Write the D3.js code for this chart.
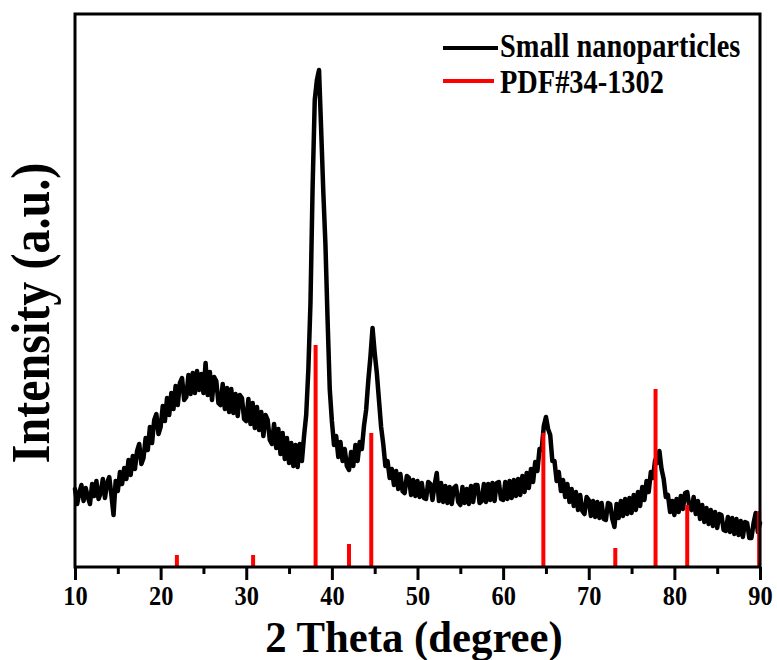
<!DOCTYPE html>
<html><head><meta charset="utf-8">
<script src="https://cdn.jsdelivr.net/npm/d3@7"></script>
<style>body{margin:0;background:#fff} svg{display:block}</style>
</head><body>
<svg id="c" width="777" height="660"></svg>
<script>
// XRD pattern sampled every 0.25 degree from 10 to 90 (arbitrary units)
const thetaStart = 10, thetaStep = 0.25;
const intensity = [
 78, 63, 74, 82,   66, 79, 70, 63,   83, 71, 86, 68,   74, 88, 69, 84,   // 10-13
 90, 72, 52, 86,   76, 95, 83, 99,   88,107, 92,111,   98,116,123,103,   // 14-17
109,129,117,140,  124,147,153,133,  140,161,146,169,  152,174,158,181,   // 18-21
162,184,189,167,  170,192,173,194,  174,196,177,193,  174,204,172,195,   // 22-25
167,190,186,164,  162,183,158,179,  155,178,154,173,  151,172,169,148,   // 26-29
146,168,143,164,  139,160,137,155,  131,152,147,127,  123,143,119,138,   // 30-33
113,134,108,129,  104,124,101,122,  100,123,106,131,  152,197,264,380,   // 34-37
467,487,497,437,  375,322,247,178,  146,122,131,110,  125,106,118,101,   // 38-41
 97,115,101,122,  106,125,118,141,  157,186,210,239,  214,194,167,140,   // 42-45
123,101,106, 89,   98, 82, 96, 78,   93, 76, 74, 91,   89, 72, 87, 71,   // 46-49
 86, 70, 84, 69,   68, 85, 83, 67,   82, 94, 66, 84,   65, 81, 64, 80,   // 50-53
 63, 79, 81, 65,   62, 80, 64, 78,   63, 81, 65, 82,   82, 64, 66, 83,   // 54-57
 65, 83, 67, 84,   66, 84, 85, 68,   67, 85, 68, 86,   69, 87, 71, 88,   // 58-61
 72, 91, 75, 94,   79, 98, 85,105,   96,118,117,141,  150,138,132,106,   // 62-65
106, 86, 95, 76,   87, 70, 83, 65,   78, 61, 75, 57,   72, 56, 53, 70,   // 66-69
 67, 51, 66, 50,   65, 49, 64, 48,   47, 64, 63, 48,   40, 63, 49, 66,   // 70-73
 51, 68, 53, 69,   54, 72, 57, 75,   61, 80, 67, 86,   75, 95, 89,107,   // 74-77
104,116, 98, 88,   70, 72, 55, 66,   52, 68, 55, 71,   58, 74, 75, 60,   // 78-81
 57, 70, 53, 66,   48, 62, 45, 59,   43, 57, 41, 55,   39, 53, 52, 37,   // 82-85
 36, 50, 35, 49,   33, 48, 32, 46,   30, 45, 44, 29,   29, 44, 54, 35,   // 86-89
 44                                                                      // 90
];
// Reference pattern PDF#34-1302
const pdfPositions   = [21.9, 30.8, 38.1, 42.0, 44.6, 64.7, 73.1, 77.8, 81.5, 89.9];
const pdfIntensities = [12,   12,   222,  23,   134,  134,  19,   178,  62,   56];
const xTicks = [10, 20, 30, 40, 50, 60, 70, 80, 90];
const xMinorTicks = [15, 25, 35, 45, 55, 65, 75, 85];
const legendLabels = ["Small nanoparticles", "PDF#34-1302"];
const seriesColors = ["#000000", "#ff0000"];
const xLabel = "2 Theta (degree)";
const yLabel = "Intensity (a.u.)";

const L = 75, R = 760, T = 14, B = 567;
const font = "'Liberation Serif','Times New Roman',serif";
const svg = d3.select("#c");
const x = d3.scaleLinear().domain([10, 90]).range([L, R]);
const y = d3.scaleLinear().domain([0, 553]).range([B, T]);

// measured curve
const line = d3.line()
  .x((d, i) => x(thetaStart + i * thetaStep))
  .y(d => y(d));
svg.append("path").datum(intensity)
  .attr("d", line).attr("fill", "none")
  .attr("stroke", seriesColors[0]).attr("stroke-width", 4.5)
  .attr("stroke-linejoin", "round").attr("stroke-linecap", "round");

// reference sticks
svg.append("g").selectAll("line").data(pdfPositions).join("line")
  .attr("x1", d => x(d)).attr("x2", d => x(d))
  .attr("y1", y(0)).attr("y2", (d, i) => y(pdfIntensities[i]))
  .attr("stroke", seriesColors[1]).attr("stroke-width", 4);

// frame
svg.append("rect").attr("x", L).attr("y", T).attr("width", R - L).attr("height", B - T)
  .attr("fill", "none").attr("stroke", "#000").attr("stroke-width", 3);

// axes
const gMinor = svg.append("g").attr("transform", `translate(0,${B})`)
  .call(d3.axisBottom(x).tickValues(xMinorTicks).tickSize(7).tickFormat("").tickSizeOuter(0));
gMinor.select(".domain").remove();
gMinor.selectAll(".tick line").attr("stroke-width", 3);

const gAx = svg.append("g").attr("transform", `translate(0,${B})`)
  .call(d3.axisBottom(x).tickValues(xTicks).tickSize(13).tickPadding(5).tickSizeOuter(0));
gAx.select(".domain").remove();
gAx.selectAll(".tick line").attr("stroke-width", 3);
gAx.selectAll(".tick text")
  .attr("font-family", font).attr("font-weight", "bold").attr("font-size", 28)
  .attr("fill", "#000").attr("transform", "scale(0.87,1)");

// axis titles
svg.append("text").attr("transform", "translate(414,652) scale(0.95,1)")
  .attr("text-anchor", "middle").attr("font-family", font).attr("font-weight", "bold")
  .attr("font-size", 45).text(xLabel);
svg.append("text").attr("transform", "translate(49,313) rotate(-90) scale(0.89,1)")
  .attr("text-anchor", "middle").attr("font-family", font).attr("font-weight", "bold")
  .attr("font-size", 54).text(yLabel);

// legend
const legY = [48, 81], legBase = [57, 93];
legendLabels.forEach((lab, i) => {
  svg.append("line").attr("x1", 443).attr("x2", i === 0 ? 498 : 494)
    .attr("y1", legY[i]).attr("y2", legY[i])
    .attr("stroke", seriesColors[i]).attr("stroke-width", 4);
  svg.append("text").attr("transform", `translate(500,${legBase[i]}) scale(0.86,1)`)
    .attr("font-family", font).attr("font-weight", "bold").attr("font-size", 33)
    .text(lab);
});
</script>
</body></html>
